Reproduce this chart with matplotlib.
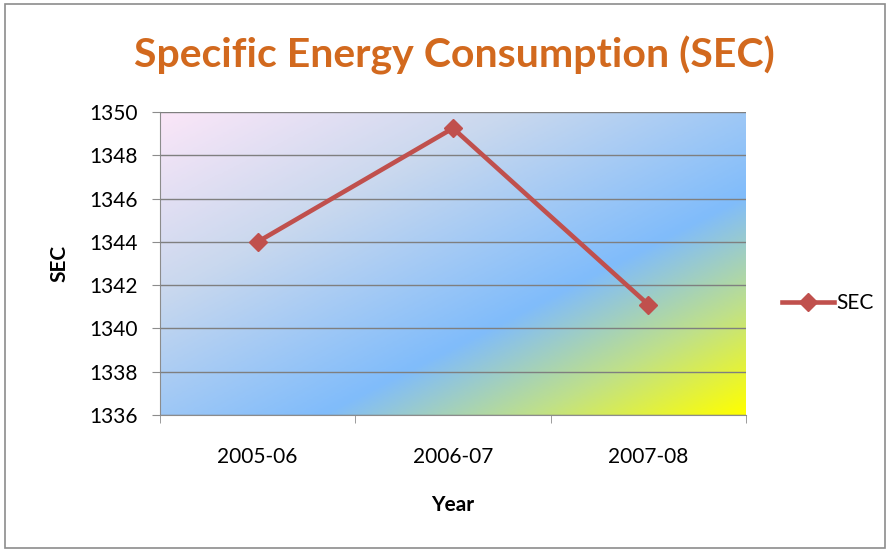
import numpy as np
import matplotlib.pyplot as plt
from matplotlib.colors import LinearSegmentedColormap
from matplotlib.patches import Rectangle

years = ['2005-06', '2006-07', '2007-08']
sec = [1344.0, 1349.25, 1341.1]
y_ticks = [1336, 1338, 1340, 1342, 1344, 1346, 1348, 1350]

plt.rcParams['font.family'] = ['Lato', 'DejaVu Sans']

fig = plt.figure(figsize=(8.9, 5.52), dpi=100)
fig.patches.append(Rectangle((0.006, 0.007), 0.988, 0.986, transform=fig.transFigure,
                             fill=False, edgecolor='#8c8c8c', linewidth=1.2))

ax = fig.add_axes([160 / 890, 1 - 415 / 552, 586 / 890, 303 / 552])

# diagonal gradient background: pink top-left, blue middle, yellow bottom-right
cmap = LinearSegmentedColormap.from_list('bg', [
    (0.0, '#fbe6f8'), (0.3, '#c9d8ee'), (0.64, '#80bcfb'),
    (0.82, '#bfe08a'), (1.0, '#ffff00')])
xx, yy = np.meshgrid(np.linspace(0, 1, 300), np.linspace(0, 1, 200))
t = (xx + (1 - yy)) / 2
ax.imshow(t, cmap=cmap, extent=[-0.5, 2.5, 1336, 1350], origin='lower',
          aspect='auto', zorder=0, interpolation='bilinear')

ax.set_xlim(-0.5, 2.5)
ax.set_ylim(1336, 1350)
ax.set_yticks(y_ticks)
ax.yaxis.grid(True, color='#7f7f7f', linewidth=1.0)
ax.set_axisbelow(False)
for g in ax.get_ygridlines():
    g.set_zorder(1)

ax.plot(range(len(years)), sec, color='#c0504d', linewidth=3.3, marker='D',
        markersize=9, label='SEC', zorder=3)

ax.set_xticks(range(len(years)))
ax.set_xticklabels(years)
ax.set_xticks([-0.5, 0.5, 1.5, 2.5], minor=True)
ax.tick_params(axis='x', which='major', length=0, pad=23, labelsize=15)
ax.tick_params(axis='x', which='minor', length=6, color='#8c8c8c')
ax.tick_params(axis='y', length=6, color='#8c8c8c', labelsize=15, pad=10)

for s in ['top', 'right']:
    ax.spines[s].set_visible(False)
for s in ['left', 'bottom']:
    ax.spines[s].set_color('#8c8c8c')

ax.set_xlabel('Year', fontsize=15, fontweight='bold', labelpad=20)
ax.set_ylabel('SEC', fontsize=15, fontweight='bold', labelpad=14)

fig.suptitle('Specific Energy Consumption (SEC)', x=0.511, y=0.935,
             fontsize=29.5, fontweight='bold', color='#d2691e')

ax.legend(loc='center left', bbox_to_anchor=(1.03, 0.37), frameon=False,
          fontsize=15, handlelength=2.5, handletextpad=0.1)

fig.savefig('out.png', dpi=100)
